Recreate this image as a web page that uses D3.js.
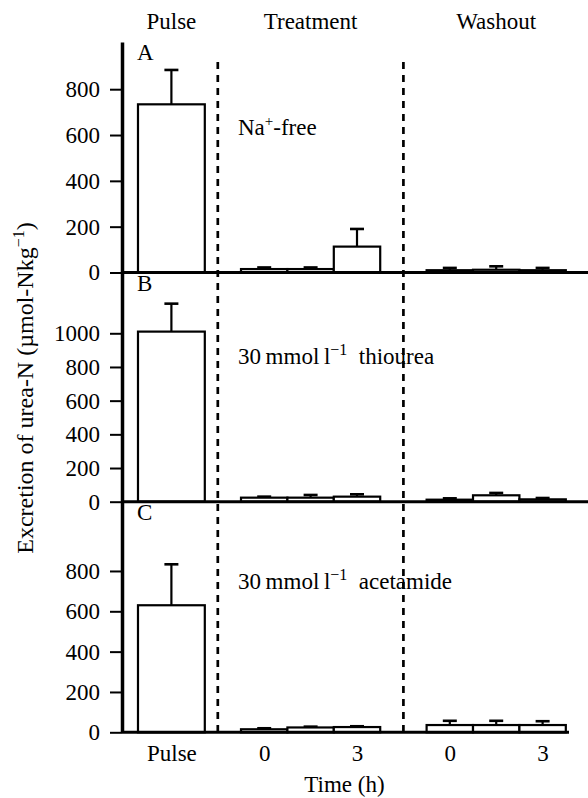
<!DOCTYPE html>
<html>
<head>
<meta charset="utf-8">
<script src="https://cdn.jsdelivr.net/npm/d3@7/dist/d3.min.js"></script>
<style>
  body { margin: 0; background: #fff; }
  svg text { font-family: "Liberation Serif", "Times New Roman", Times, "DejaVu Serif", serif !important; fill: #000; }
</style>
</head>
<body>
<svg id="chart" width="588" height="798"></svg>
<script>
// Urea-N excretion (µmol-N kg^-1): pulse, three treatment hours, three washout hours
const panelIds = ["A", "B", "C"];
const phaseLabels = ["Pulse", "Treatment", "Washout"];
const xTickLabels = ["Pulse", "0", "3", "0", "3"];

const pulseMean = [734, 1010, 630];
const pulseSem = [150, 166, 203];

const treatmentMean = [[15, 15, 113], [24, 24, 30], [15, 24, 26]];
const treatmentSem = [[7, 7, 77], [6, 16, 14], [5, 4, 4]];

const washoutMean = [[10, 12, 10], [12, 38, 14], [36, 36, 36]];
const washoutSem = [[10, 15, 10], [8, 14, 8], [21, 21, 19]];

const yTicks = [
  [0, 200, 400, 600, 800],
  [0, 200, 400, 600, 800, 1000],
  [0, 200, 400, 600, 800]
];
const yMax = [1006, 1358, 1142];

// layout
const panelBase = [272.5, 501.7, 732.3];
const panelTop = [42, 273, 502];
const baselineEnd = [588, 588, 569];
const FONT = 23;
const SERIF = '"Liberation Serif", "Times New Roman", Times, "DejaVu Serif", serif';

const svg = d3.select("#chart").attr("font-family", SERIF);

// x positions measured in hourly slots; treatment starts at 0, washout at 4
const x = d3.scaleLinear().domain([-2.543, 7.004]).range([123, 566]);
const pulseSpan = [-2.22, -0.78];
const slotCenters = [-1.5, 0.5, 2.5, 4.5, 6.5];

panelIds.forEach((id, p) => {
  const y = d3.scaleLinear().domain([0, yMax[p]]).range([panelBase[p], panelTop[p]]);
  const g = svg.append("g");

  // bars: pulse, treatment, washout
  const bars = [{ x0: pulseSpan[0], x1: pulseSpan[1], m: pulseMean[p], e: pulseSem[p] }];
  treatmentMean[p].forEach((m, i) => bars.push({ x0: i, x1: i + 1, m, e: treatmentSem[p][i] }));
  washoutMean[p].forEach((m, i) => bars.push({ x0: 4 + i, x1: 5 + i, m, e: washoutSem[p][i] }));

  // error bars (upper only)
  g.selectAll("line.err").data(bars).join("line")
    .attr("x1", d => x((d.x0 + d.x1) / 2)).attr("x2", d => x((d.x0 + d.x1) / 2))
    .attr("y1", d => y(d.m)).attr("y2", d => y(d.m + d.e))
    .attr("stroke", "#000").attr("stroke-width", 2.2);
  g.selectAll("line.cap").data(bars).join("line")
    .attr("x1", d => x((d.x0 + d.x1) / 2) - 7).attr("x2", d => x((d.x0 + d.x1) / 2) + 7)
    .attr("y1", d => y(d.m + d.e)).attr("y2", d => y(d.m + d.e))
    .attr("stroke", "#000").attr("stroke-width", 2.6);

  g.selectAll("rect").data(bars).join("rect")
    .attr("x", d => x(d.x0)).attr("width", d => x(d.x1) - x(d.x0))
    .attr("y", d => y(d.m)).attr("height", d => y(0) - y(d.m))
    .attr("fill", "#fff").attr("stroke", "#000").attr("stroke-width", 2.2);

  // baseline
  g.append("line")
    .attr("x1", 122).attr("x2", baselineEnd[p])
    .attr("y1", y(0)).attr("y2", y(0))
    .attr("stroke", "#000").attr("stroke-width", 3);

  // y axis
  const ax = g.append("g").attr("transform", "translate(122,0)")
    .call(d3.axisLeft(y).tickValues(yTicks[p]).tickFormat(d3.format("d"))
      .tickSize(12).tickSizeOuter(0).tickPadding(10));
  ax.attr("font-family", SERIF).attr("font-size", FONT);
  ax.select(".domain").attr("stroke-width", 3.5);
  ax.selectAll(".tick line").attr("stroke-width", 2);

  // panel letter
  g.append("text").attr("x", 137).attr("y", panelTop[p] + 18)
    .attr("font-size", FONT).text(id);
});

// panel annotations
const annY = [135, 364, 589];
const a0 = svg.append("text").attr("x", 238).attr("y", annY[0]).attr("font-size", FONT);
a0.append("tspan").text("Na");
a0.append("tspan").attr("dy", -9).attr("font-size", 15).text("+");
a0.append("tspan").attr("dy", 9).text("-free");

["thiourea", "acetamide"].forEach((agent, i) => {
  const t = svg.append("text").attr("x", 238).attr("y", annY[i + 1]).attr("font-size", FONT);
  t.append("tspan").text("30\u2009mmol\u2009l");
  t.append("tspan").attr("dy", -9).attr("font-size", 16).text("\u22121");
  t.append("tspan").attr("dy", 9).text("\u00a0 " + agent);
});

// phase separators
[-0.5, 3.5].forEach(u => {
  svg.append("line")
    .attr("x1", x(u)).attr("x2", x(u)).attr("y1", 62).attr("y2", 733)
    .attr("stroke", "#000").attr("stroke-width", 2.7)
    .attr("stroke-dasharray", "7,6");
});

// phase headers
[-1.5, 1.5, 5.5].forEach((u, i) => {
  svg.append("text").attr("x", x(u)).attr("y", 29)
    .attr("text-anchor", "middle").attr("font-size", FONT).text(phaseLabels[i]);
});

// bottom axis labels
const bx = svg.append("g").attr("transform", `translate(0,${panelBase[2]})`)
  .call(d3.axisBottom(x).tickValues(slotCenters)
    .tickFormat((d, i) => xTickLabels[i]).tickSize(0).tickPadding(12));
bx.attr("font-family", SERIF).attr("font-size", FONT);
bx.select(".domain").remove();

// axis titles
svg.append("text").attr("x", x(2.23)).attr("y", 792)
  .attr("text-anchor", "middle").attr("font-size", FONT).text("Time (h)");

const yl = svg.append("text")
  .attr("transform", "translate(33,388) rotate(-90)")
  .attr("text-anchor", "middle").attr("font-size", 24);
yl.append("tspan").text("Excretion of urea-N (\u00b5mol-Nkg");
yl.append("tspan").attr("dy", -9).attr("font-size", 16).text("\u22121");
yl.append("tspan").attr("dy", 9).text(")");
</script>
</body>
</html>
